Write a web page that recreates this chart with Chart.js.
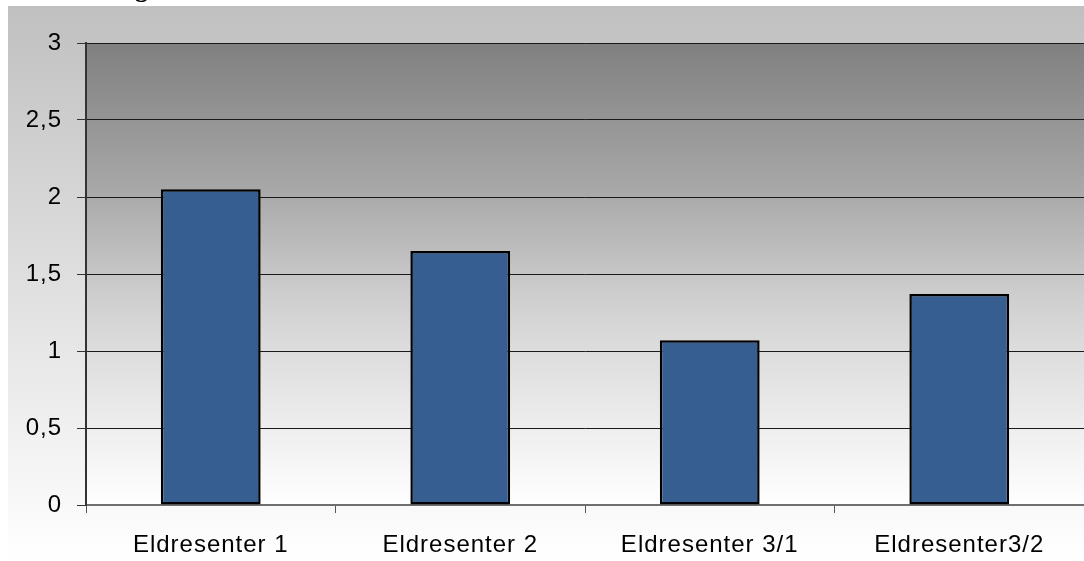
<!DOCTYPE html>
<html>
<head>
<meta charset="utf-8">
<script src="https://cdn.jsdelivr.net/npm/chart.js@4"></script>
<style>
  html, body { margin: 0; padding: 0; background: #ffffff; }
  #wrap { width: 1084px; height: 561px; position: relative; }
</style>
</head>
<body>
<div id="wrap"><canvas id="c" width="1084" height="561"></canvas></div>
<script>
// Chart data
const categories = ['Eldresenter 1', 'Eldresenter 2', 'Eldresenter 3/1', 'Eldresenter3/2'];
const values = [2.05, 1.65, 1.07, 1.37];
const yTicks = [0, 0.5, 1, 1.5, 2, 2.5, 3];
const titleText = 'Vurdering';

const FONT = 'Arial, "Liberation Sans", sans-serif';

// Backgrounds: outer panel and plot-area gradients, plus the clipped heading
const backdrop = {
  id: 'backdrop',
  beforeDraw(chart) {
    const { ctx, chartArea: a, width, height } = chart;
    ctx.save();
    ctx.fillStyle = '#ffffff';
    ctx.fillRect(0, 0, width, height);
    const g = ctx.createLinearGradient(0, 6, 0, height);
    g.addColorStop(0, '#c0c0c0');
    g.addColorStop(1, '#ffffff');
    ctx.fillStyle = g;
    ctx.fillRect(8, 6, width - 8, height - 6);

    const p = ctx.createLinearGradient(0, a.top, 0, a.bottom);
    p.addColorStop(0, '#808080');
    p.addColorStop(0.32, '#a8a8a8');
    p.addColorStop(0.54, '#cdcdcd');
    p.addColorStop(0.64, '#dadada');
    p.addColorStop(1, '#ffffff');
    ctx.fillStyle = p;
    ctx.fillRect(a.left, a.top, a.right - a.left, a.bottom - a.top);

    // heading sits mostly above the canvas; only its descender shows
    ctx.fillStyle = '#000000';
    ctx.font = 'bold 26px "Liberation Serif", "Times New Roman", serif';
    ctx.textAlign = 'right';
    ctx.textBaseline = 'alphabetic';
    ctx.fillText(titleText, 148, -3);
    ctx.restore();
    // slightly wider lettering for the axis labels
    ctx.letterSpacing = '1px';
  },
  afterDraw(chart) {
    chart.ctx.letterSpacing = '0px';
  }
};

new Chart(document.getElementById('c'), {
  type: 'bar',
  data: {
    labels: categories,
    datasets: [{
      data: values,
      backgroundColor: '#365e90',
      borderColor: '#000000',
      borderWidth: 2.5,
      borderSkipped: false,
      categoryPercentage: 1.0,
      barPercentage: 0.4
    }]
  },
  plugins: [backdrop],
  options: {
    responsive: false,
    animation: false,
    devicePixelRatio: 1,
    layout: { padding: { left: 8, top: 43, right: 0, bottom: 0 } },
    plugins: {
      legend: { display: false },
      title: { display: false },
      tooltip: { enabled: false }
    },
    scales: {
      x: {
        offset: true,
        grid: {
          offset: true,
          drawOnChartArea: false,
          drawTicks: true,
          tickLength: 8,
          tickColor: '#555555',
          tickWidth: 1
        },
        border: { display: true, color: '#707070', width: 2 },
        ticks: {
          color: '#000000',
          padding: 18,
          maxRotation: 0,
          autoSkip: false,
          font: { family: FONT, size: 24 }
        },
        afterFit(scale) { scale.height = 56; }
      },
      y: {
        min: 0,
        max: 3,
        afterBuildTicks(scale) {
          scale.ticks = yTicks.map(v => ({ value: v }));
        },
        grid: {
          color: (c) => (c.tick && c.tick.value === 0 ? 'rgba(0,0,0,0)' : '#1a1a1a'),
          lineWidth: 1,
          drawTicks: true,
          tickLength: 9,
          tickColor: '#333333'
        },
        border: { display: true, color: '#333333', width: 2 },
        ticks: {
          color: '#000000',
          padding: 15,
          font: { family: FONT, size: 24 },
          callback: (v) => String(v).replace('.', ',')
        },
        afterFit(scale) { scale.width = 78; }
      }
    }
  }
});
</script>
</body>
</html>
